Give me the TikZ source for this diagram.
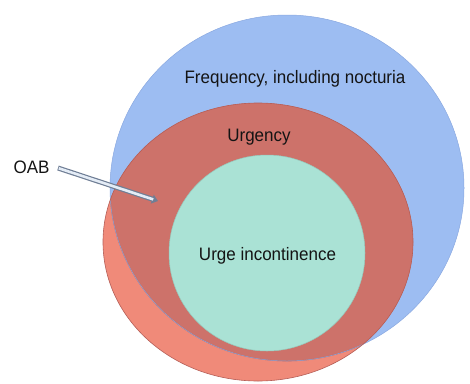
\documentclass[tikz,border=0pt]{standalone}
\usepackage{fontspec}
\setmainfont{Liberation Sans}
\usetikzlibrary{arrows.meta}
\definecolor{bluefill}{HTML}{9DBDF2}
\definecolor{blueline}{HTML}{8AA8E0}
\definecolor{salmon}{HTML}{F08A79}
\definecolor{darkred}{HTML}{CD726A}
\definecolor{redline}{HTML}{B55E57}
\definecolor{greenfill}{HTML}{AAE2D5}
\definecolor{greenline}{HTML}{95C9BC}
\definecolor{arrowedge}{HTML}{6F7E95}
\definecolor{arrowfill}{HTML}{E4ECF6}
\tikzset{
  lbl/.style={font=\fontsize{17}{20}\selectfont, text=black!92, inner sep=0pt, anchor=base, yscale=1.06},
}
\begin{document}
\begin{tikzpicture}[x=1pt,y=-1pt]
\useasboundingbox (0,0) rectangle (470,383);
% blue ellipse
\fill[bluefill] (287,188) ellipse [x radius=177, y radius=173];
% red ellipse (salmon outside blue)
\fill[salmon] (258,242) ellipse [x radius=155, y radius=139];
% red over blue: darker
\begin{scope}
  \clip (287,188) ellipse [x radius=177, y radius=173];
  \fill[darkred] (258,242) ellipse [x radius=155, y radius=139];
\end{scope}
% blue edge visible inside red
\begin{scope}
  \clip (258,242) ellipse [x radius=155, y radius=139];
  \draw[redline!80!darkred, line width=0.6pt] (287,188) ellipse [x radius=177, y radius=173];
\end{scope}
\draw[blueline, line width=0.5pt] (287,188) ellipse [x radius=177, y radius=173];
\draw[redline, line width=0.6pt] (258,242) ellipse [x radius=155, y radius=139];
% green circle
\fill[greenfill] (267,253) circle [radius=98];
\draw[greenline, line width=0.5pt] (267,253) circle [radius=98];
% labels
\node[lbl] (freq) at (295,83) {Frequency, including nocturia};
\node[lbl] (urg) at (259,141.5) {Urgency};
\node[lbl] (urge) at (267.5,260.5) {Urge incontinence};
\node[lbl] (oab) at (31.5,173) {OAB};
% arrow
\coordinate (astart) at (58,168);
\coordinate (atip) at (158,201);
\draw[arrowedge, line width=5pt, -{Triangle[length=6pt,width=9pt]}] (astart) -- (atip);
\draw[arrowfill, line width=2.6pt, shorten >=5pt, shorten <=0.8pt] (astart) -- (atip);
\end{tikzpicture}
\end{document}
